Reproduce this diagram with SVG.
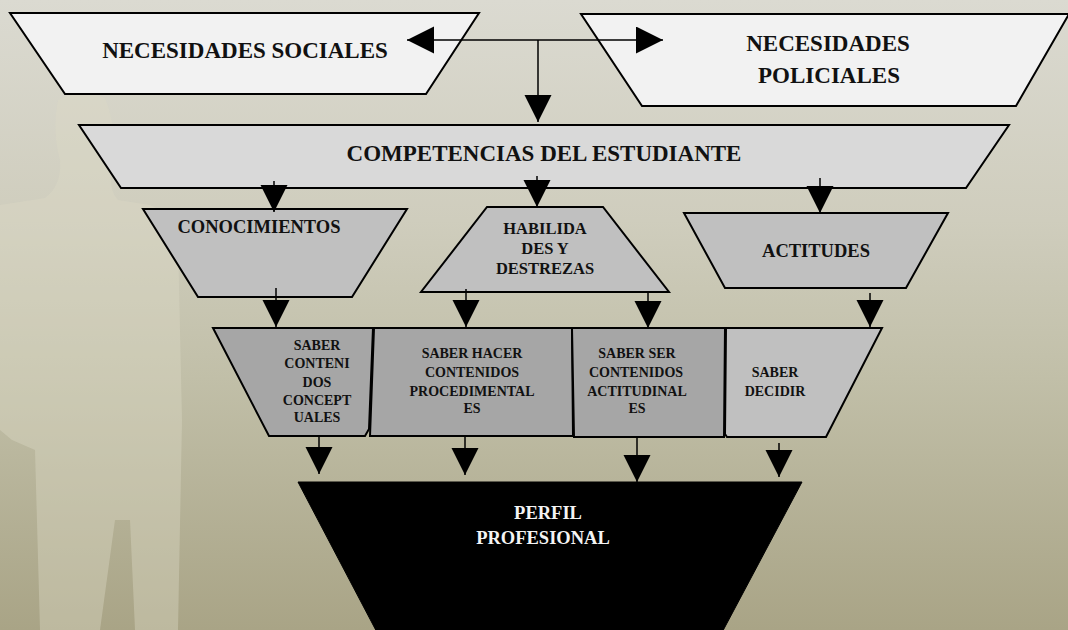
<svg xmlns="http://www.w3.org/2000/svg" width="1068" height="630" viewBox="0 0 1068 630">
<defs>
<linearGradient id="bg" x1="0" y1="0" x2="0" y2="1">
<stop offset="0" stop-color="#dbdad1"/>
<stop offset="0.35" stop-color="#cfcdbd"/>
<stop offset="0.6" stop-color="#c1bfa8"/>
<stop offset="1" stop-color="#a9a486"/>
</linearGradient>
<marker id="ah" markerUnits="userSpaceOnUse" markerWidth="28" markerHeight="28" refX="27" refY="13.5" orient="auto">
<path d="M0,0 L27,13.5 L0,27 Z" fill="#000"/>
</marker>
<style>
.shape{stroke:#000;stroke-width:2;stroke-linejoin:miter}
.conn{stroke:#000;stroke-width:1.5;fill:none;marker-end:url(#ah)}
.t{font-family:"Liberation Serif","Times New Roman",serif;font-weight:bold;fill:#111;text-anchor:middle}
.big{font-size:23px}
.mid{font-size:18.5px}
.sm{font-size:16.5px}
.xs{font-size:14px}
</style>
</defs>
<rect x="0" y="0" width="1068" height="630" fill="url(#bg)"/>
<g fill="#dcdac6" opacity="0.4">
<path d="M58,100 Q80,88 105,98 Q118,130 112,165 Q108,190 118,200 L150,205 Q175,215 178,240 L182,420 L178,630 L135,630 L130,520 L115,520 L100,630 L40,630 L35,450 L12,440 L0,430 L0,205 L45,198 Q62,185 60,160 Q52,130 58,100 Z"/>
</g>
<g id="nec-sociales">
<polygon class="shape" fill="#f2f2f2" points="10,13 479,13 426,94 65,94"/>
<text class="t big" x="245" y="58">NECESIDADES SOCIALES</text>
</g>
<g id="nec-policiales">
<polygon class="shape" fill="#f2f2f2" points="581,14 1069,14 1016,106 642,106"/>
<text class="t big" x="828" y="51">NECESIDADES</text>
<text class="t big" x="829" y="83">POLICIALES</text>
</g>
<g id="competencias">
<polygon class="shape" fill="#d9d9d9" points="79,125 1009,125 966,188 121,188"/>
<text class="t big" x="544" y="161">COMPETENCIAS DEL ESTUDIANTE</text>
</g>
<g id="conocimientos">
<polygon class="shape" fill="#c0c0c0" points="143,209 407,209 352,297 198,297"/>
<text class="t mid" x="259" y="233">CONOCIMIENTOS</text>
</g>
<g id="habilidades">
<polygon class="shape" fill="#c0c0c0" points="487,207 603,207 669,292 421,292"/>
<text class="t sm" x="545" y="234">HABILIDA</text>
<text class="t sm" x="545" y="254">DES Y</text>
<text class="t sm" x="545" y="274">DESTREZAS</text>
</g>
<g id="actitudes">
<polygon class="shape" fill="#c0c0c0" points="684,213 948,213 906,288 725,288"/>
<text class="t mid" x="816" y="257">ACTITUDES</text>
</g>
<g id="saber-conceptuales">
<polygon class="shape" fill="#a6a6a6" points="213,328 373,328 369,429 365,436 269,436"/>
<text class="t xs" x="317" y="350">SABER</text>
<text class="t xs" x="317" y="368">CONTENI</text>
<text class="t xs" x="317" y="387">DOS</text>
<text class="t xs" x="317" y="405">CONCEPT</text>
<text class="t xs" x="317" y="422">UALES</text>
</g>
<g id="saber-hacer">
<polygon class="shape" fill="#a6a6a6" points="374,328 572,328 573,436 370,436"/>
<text class="t xs" x="472" y="358">SABER HACER</text>
<text class="t xs" x="472" y="377">CONTENIDOS</text>
<text class="t xs" x="472" y="396">PROCEDIMENTAL</text>
<text class="t xs" x="472" y="413">ES</text>
</g>
<g id="saber-ser">
<polygon class="shape" fill="#a6a6a6" points="572,328 725,328 724,437 574,437"/>
<text class="t xs" x="637" y="358">SABER SER</text>
<text class="t xs" x="636" y="377">CONTENIDOS</text>
<text class="t xs" x="637" y="396">ACTITUDINAL</text>
<text class="t xs" x="637" y="413">ES</text>
</g>
<g id="saber-decidir">
<polygon class="shape" fill="#c0c0c0" points="726,328 882,328 826,437 727,437 725,434"/>
<text class="t xs" x="775" y="377">SABER</text>
<text class="t xs" x="775" y="396">DECIDIR</text>
</g>
<g id="perfil">
<polygon fill="#000" stroke="#000" stroke-width="1" points="298,482 802,482 718,640 381,640"/>
<text class="t mid" style="fill:#f4f4f4" x="548" y="519">PERFIL</text>
<text class="t mid" style="fill:#f4f4f4" x="543" y="544">PROFESIONAL</text>
</g>
<g id="connectors">
<line class="conn" x1="538" y1="40" x2="407" y2="40"/>
<line class="conn" x1="538" y1="40" x2="663" y2="40"/>
<line class="conn" x1="538" y1="40" x2="538" y2="122"/>
<line class="conn" x1="274" y1="181" x2="274" y2="212"/>
<line class="conn" x1="537" y1="176" x2="537" y2="207"/>
<line class="conn" x1="820" y1="178" x2="820" y2="213"/>
<line class="conn" x1="276" y1="288" x2="276" y2="327"/>
<line class="conn" x1="466" y1="289" x2="466" y2="327"/>
<line class="conn" x1="648" y1="292" x2="648" y2="328"/>
<line class="conn" x1="870" y1="293" x2="870" y2="327"/>
<line class="conn" x1="319" y1="437" x2="319" y2="474"/>
<line class="conn" x1="465" y1="437" x2="465" y2="475"/>
<line class="conn" x1="637" y1="437" x2="637" y2="482"/>
<line class="conn" x1="779" y1="443" x2="779" y2="477"/>
</g>
</svg>
